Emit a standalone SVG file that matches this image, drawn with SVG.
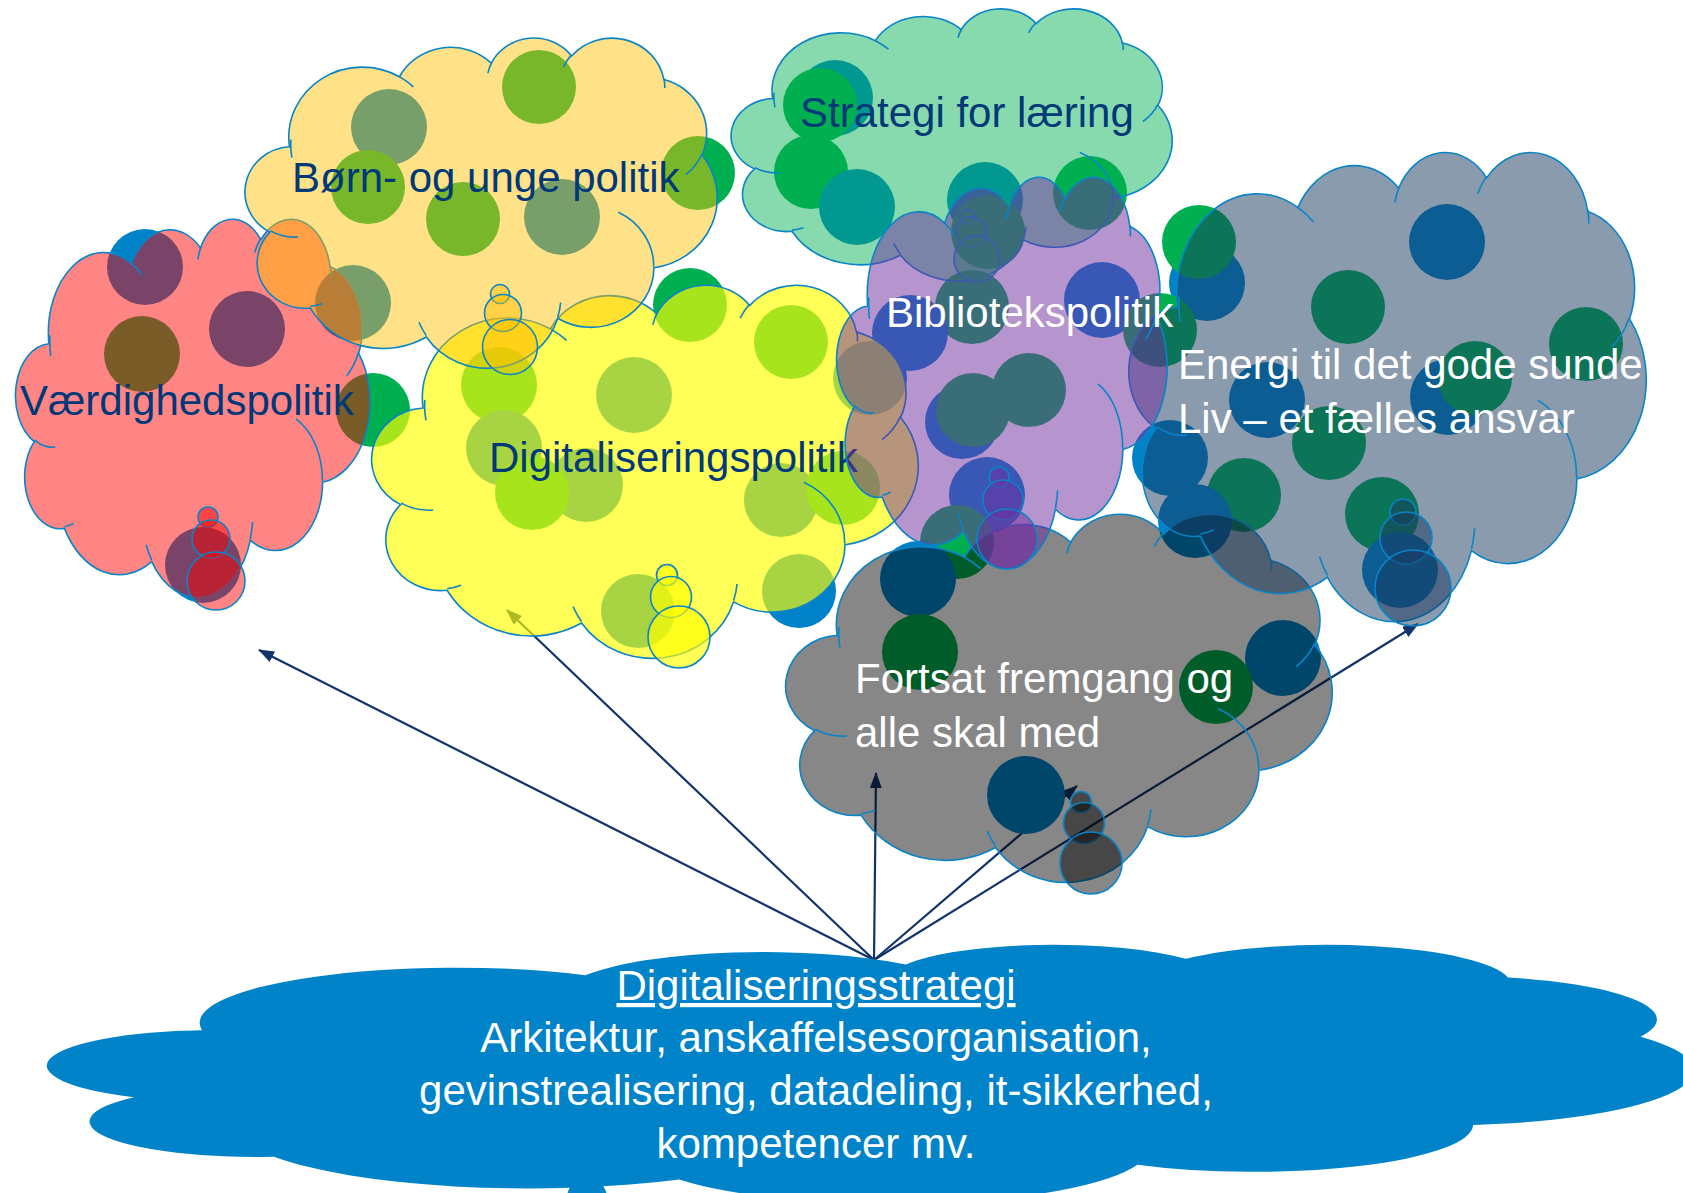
<svg xmlns="http://www.w3.org/2000/svg" width="1683" height="1193" viewBox="0 0 1683 1193">
<style>
.ol{stroke:#0A84C8;stroke-width:1.6}
.pink{fill:#FF0000;fill-opacity:.48}
.gold{fill:#FFC000;fill-opacity:.47}
.yel{fill:#FFFF00;fill-opacity:.66}
.mint{fill:#00B050;fill-opacity:.47}
.purp{fill:#7030A0;fill-opacity:.51}
.navy{fill:#17375E;fill-opacity:.5}
.gray{fill:#000000;fill-opacity:.47}
.g{fill:#00B050}
.b{fill:#0082C8}
.t{font-family:"Liberation Sans",Arial,sans-serif;font-size:42px}
.dk{fill:#003878}
.wh{fill:#FFFFFF}
.con{stroke:#12336B;stroke-width:2.2;fill:none}
</style>
<defs>
<path id="cl" vector-effect="non-scaling-stroke" d="M39 143.7 A67.53 91.9 0 0 1 140.06 52.03 A53.33 72.67 0 0 1 224.56 34.33 A43.65 59.45 0 0 1 298.32 24.79 A48.57 65.95 0 0 1 383.17 55.74 A53.33 72.73 0 0 1 418.17 154.58 A67.75 92.2 0 0 1 374.04 302.03 A57.85 78.67 0 0 1 285.56 368.13 A67.52 92.15 0 0 1 164.81 392.65 A77.2 105.43 0 0 1 58.04 354.7 A43.6 59.18 0 0 1 21.11 255.5 A43.45 59.45 0 0 1 39 143.7Z"/>
<path id="ci" fill="none" vector-effect="non-scaling-stroke" d="M46.93 261.77 A43.45 59.45 0 0 1 21.59 253.8 M69.28 348.99 A43.6 59.18 0 0 1 58.2 352.81 M164.78 390.9 A67.52 92.15 0 0 1 158.1 373.49 M288.27 347.51 A67.52 92.15 0 0 1 285.6 366.6 M341.29 229.54 A57.85 78.67 0 0 1 373.81 300.9 M417.98 153.54 A53.33 72.73 0 0 1 403.49 180.31 M383.24 54.26 A48.57 65.95 0 0 1 384 66.9 M290.78 39.52 A48.57 65.95 0 0 1 298.2 23.41 M221.41 47.2 A43.65 59.45 0 0 1 225.12 32.98 M140 51.92 A67.53 91.9 0 0 1 152.99 65.4 M41.27 157.89 A67.53 91.9 0 0 1 40.42 134.16"/>
<marker id="ah" markerWidth="16" markerHeight="12" refX="15" refY="6" orient="auto" markerUnits="userSpaceOnUse"><path d="M0,0 L16,6 L0,12 Z" fill="#12336B"/></marker>
</defs>
<rect width="1683" height="1193" fill="#FFFFFF"/>

<g id="connectors" class="con">
<line x1="874" y1="960" x2="259" y2="650" marker-end="url(#ah)"/>
<line x1="874" y1="960" x2="507" y2="610" marker-end="url(#ah)"/>
<line x1="874" y1="960" x2="876" y2="773" marker-end="url(#ah)"/>
<line x1="874" y1="960" x2="1077" y2="786" marker-end="url(#ah)"/>
<line x1="874" y1="960" x2="1418" y2="624" marker-end="url(#ah)"/>
</g>

<g id="dots">
<circle class="b" cx="145" cy="267" r="38"/>
<circle class="b" cx="247" cy="329" r="38"/>
<circle class="g" cx="142" cy="354" r="38"/>
<circle class="g" cx="373" cy="410" r="37"/>
<circle class="b" cx="203" cy="565" r="38"/>
<circle class="g" cx="539" cy="87" r="37"/>
<circle class="b" cx="389" cy="127" r="38"/>
<circle class="g" cx="368" cy="187" r="37"/>
<circle class="g" cx="463" cy="219" r="37"/>
<circle class="b" cx="562" cy="217" r="38"/>
<circle class="g" cx="698" cy="173" r="37"/>
<circle class="b" cx="353" cy="303" r="38"/>
<circle class="g" cx="690" cy="305" r="37"/>
<circle class="b" cx="835" cy="98" r="38"/>
<circle class="g" cx="820" cy="105" r="37"/>
<circle class="g" cx="811" cy="172" r="37"/>
<circle class="b" cx="857" cy="207" r="38"/>
<circle class="b" cx="985" cy="200" r="38"/>
<circle class="g" cx="988" cy="232" r="37"/>
<circle class="g" cx="1090" cy="193" r="37"/>
<circle class="g" cx="972" cy="307" r="37"/>
<circle class="b" cx="1102" cy="300" r="38"/>
<circle class="b" cx="910" cy="333" r="38"/>
<circle class="g" cx="1029" cy="390" r="37"/>
<circle class="b" cx="962" cy="422" r="37"/>
<circle class="g" cx="973" cy="410" r="37"/>
<circle class="b" cx="987" cy="495" r="38"/>
<circle class="g" cx="957" cy="542" r="37"/>
<circle class="g" cx="499" cy="385" r="38"/>
<circle class="b" cx="634" cy="395" r="38"/>
<circle class="b" cx="504" cy="448" r="38"/>
<circle class="b" cx="586" cy="485" r="37"/>
<circle class="g" cx="532" cy="493" r="37"/>
<circle class="g" cx="791" cy="342" r="37"/>
<circle class="b" cx="870" cy="378" r="37"/>
<circle class="b" cx="781" cy="500" r="37"/>
<circle class="g" cx="843" cy="488" r="37"/>
<circle class="b" cx="799" cy="591" r="37"/>
<circle class="b" cx="638" cy="611" r="37"/>
<circle class="b" cx="1207" cy="283" r="38"/>
<circle class="g" cx="1199" cy="242" r="37"/>
<circle class="b" cx="1447" cy="242" r="38"/>
<circle class="g" cx="1348" cy="307" r="37"/>
<circle class="g" cx="1586" cy="344" r="37"/>
<circle class="g" cx="1160" cy="330" r="37"/>
<circle class="b" cx="1267" cy="400" r="38"/>
<circle class="b" cx="1448" cy="397" r="38"/>
<circle class="g" cx="1475" cy="378" r="37"/>
<circle class="g" cx="1329" cy="443" r="37"/>
<circle class="b" cx="1170" cy="458" r="38"/>
<circle class="g" cx="1244" cy="495" r="37"/>
<circle class="b" cx="1195" cy="521" r="37"/>
<circle class="g" cx="1382" cy="514" r="37"/>
<circle class="b" cx="1400" cy="570" r="38"/>
<circle class="b" cx="918" cy="579" r="38"/>
<circle class="g" cx="920" cy="652" r="38"/>
<circle class="b" cx="1283" cy="658" r="38"/>
<circle class="g" cx="1216" cy="687" r="37"/>
<circle class="b" cx="1026" cy="795" r="39"/>
</g>

<g id="n-digitaliseringspolitik">
<use href="#cl" class="yel ol" transform="translate(374,284) scale(1.2593,0.8634)"/>
<use href="#ci" class="ol" transform="translate(374,284) scale(1.2593,0.8634)"/>
<circle class="yel ol" cx="667" cy="575" r="10.5"/>
<circle class="yel ol" cx="671" cy="597" r="20.5"/>
<circle class="yel ol" cx="679" cy="637" r="31"/>
<text class="t dk" x="489" y="472">Digitaliseringspolitik</text>
</g>

<g id="n-strategi-laering">
<use href="#cl" class="mint ol" transform="translate(733,8) scale(1.0162,0.6296)"/>
<use href="#ci" class="ol" transform="translate(733,8) scale(1.0162,0.6296)"/>
<circle class="mint ol" cx="967" cy="217" r="7.5"/>
<circle class="mint ol" cx="971" cy="232" r="15"/>
<circle class="mint ol" cx="977" cy="259" r="23"/>
<text class="t dk" x="800" y="127">Strategi for læring</text>
</g>

<g id="n-fortsat">
<use href="#cl" class="gray ol" transform="translate(788,513) scale(1.2593,0.8519)"/>
<use href="#ci" class="ol" transform="translate(788,513) scale(1.2593,0.8519)"/>
<circle class="gray ol" cx="1081" cy="802" r="10.5"/>
<circle class="gray ol" cx="1084" cy="823" r="20.5"/>
<circle class="gray ol" cx="1091" cy="863" r="31"/>
<text class="t wh" x="855" y="693">Fortsat fremgang og</text>
<text class="t wh" x="855" y="747">alle skal med</text>
</g>

<g id="n-energi">
<use href="#cl" class="navy ol" transform="translate(1131,151) scale(1.1921,1.0856)"/>
<use href="#ci" class="ol" transform="translate(1131,151) scale(1.1921,1.0856)"/>
<circle class="navy ol" cx="1403" cy="512" r="13"/>
<circle class="navy ol" cx="1406" cy="538" r="26"/>
<circle class="navy ol" cx="1413" cy="588" r="38"/>
<text class="t wh" x="1178" y="379">Energi til det gode sunde</text>
<text class="t wh" x="1178" y="433">Liv – et fælles ansvar</text>
</g>

<g id="n-vaerdighedspolitik">
<use href="#cl" class="pink ol" transform="translate(17,218) scale(0.8171,0.8750)"/>
<use href="#ci" class="ol" transform="translate(17,218) scale(0.8171,0.8750)"/>
<circle class="pink ol" cx="208" cy="517" r="10"/>
<circle class="pink ol" cx="211" cy="539" r="19"/>
<circle class="pink ol" cx="216" cy="581" r="29"/>
<text class="t dk" x="20" y="415">Værdighedspolitik</text>
</g>

<g id="n-boern-unge">
<use href="#cl" class="gold ol" transform="translate(247,37) scale(1.0880,0.7639)"/>
<use href="#ci" class="ol" transform="translate(247,37) scale(1.0880,0.7639)"/>
<circle class="gold ol" cx="500" cy="294" r="9.5"/>
<circle class="gold ol" cx="503" cy="313" r="18.5"/>
<circle class="gold ol" cx="510" cy="347" r="27.5"/>
<text class="t dk" x="292" y="192">Børn- og unge politik</text>
</g>

<g id="n-bibliotekspolitik">
<use href="#cl" class="purp ol" transform="translate(838,176) scale(0.7616,0.9051)"/>
<use href="#ci" class="ol" transform="translate(838,176) scale(0.7616,0.9051)"/>
<circle class="purp ol" cx="999" cy="477" r="10"/>
<circle class="purp ol" cx="1003" cy="500" r="20"/>
<circle class="purp ol" cx="1007" cy="539" r="30"/>
<text class="t wh" x="886" y="327">Bibliotekspolitik</text>
</g>

<g id="n-digitaliseringsstrategi">
<use href="#cl" fill="#0083C9" transform="translate(54,944) scale(3.7940,0.5995)"/>
<circle cx="587" cy="1198" r="20" fill="#0083C9"/>
<text class="t wh" text-anchor="middle" x="816" y="1000" text-decoration="underline">Digitaliseringsstrategi</text>
<text class="t wh" text-anchor="middle" x="816" y="1052">Arkitektur, anskaffelsesorganisation,</text>
<text class="t wh" text-anchor="middle" x="816" y="1105">gevinstrealisering, datadeling, it-sikkerhed,</text>
<text class="t wh" text-anchor="middle" x="816" y="1158">kompetencer mv.</text>
</g>
</svg>
